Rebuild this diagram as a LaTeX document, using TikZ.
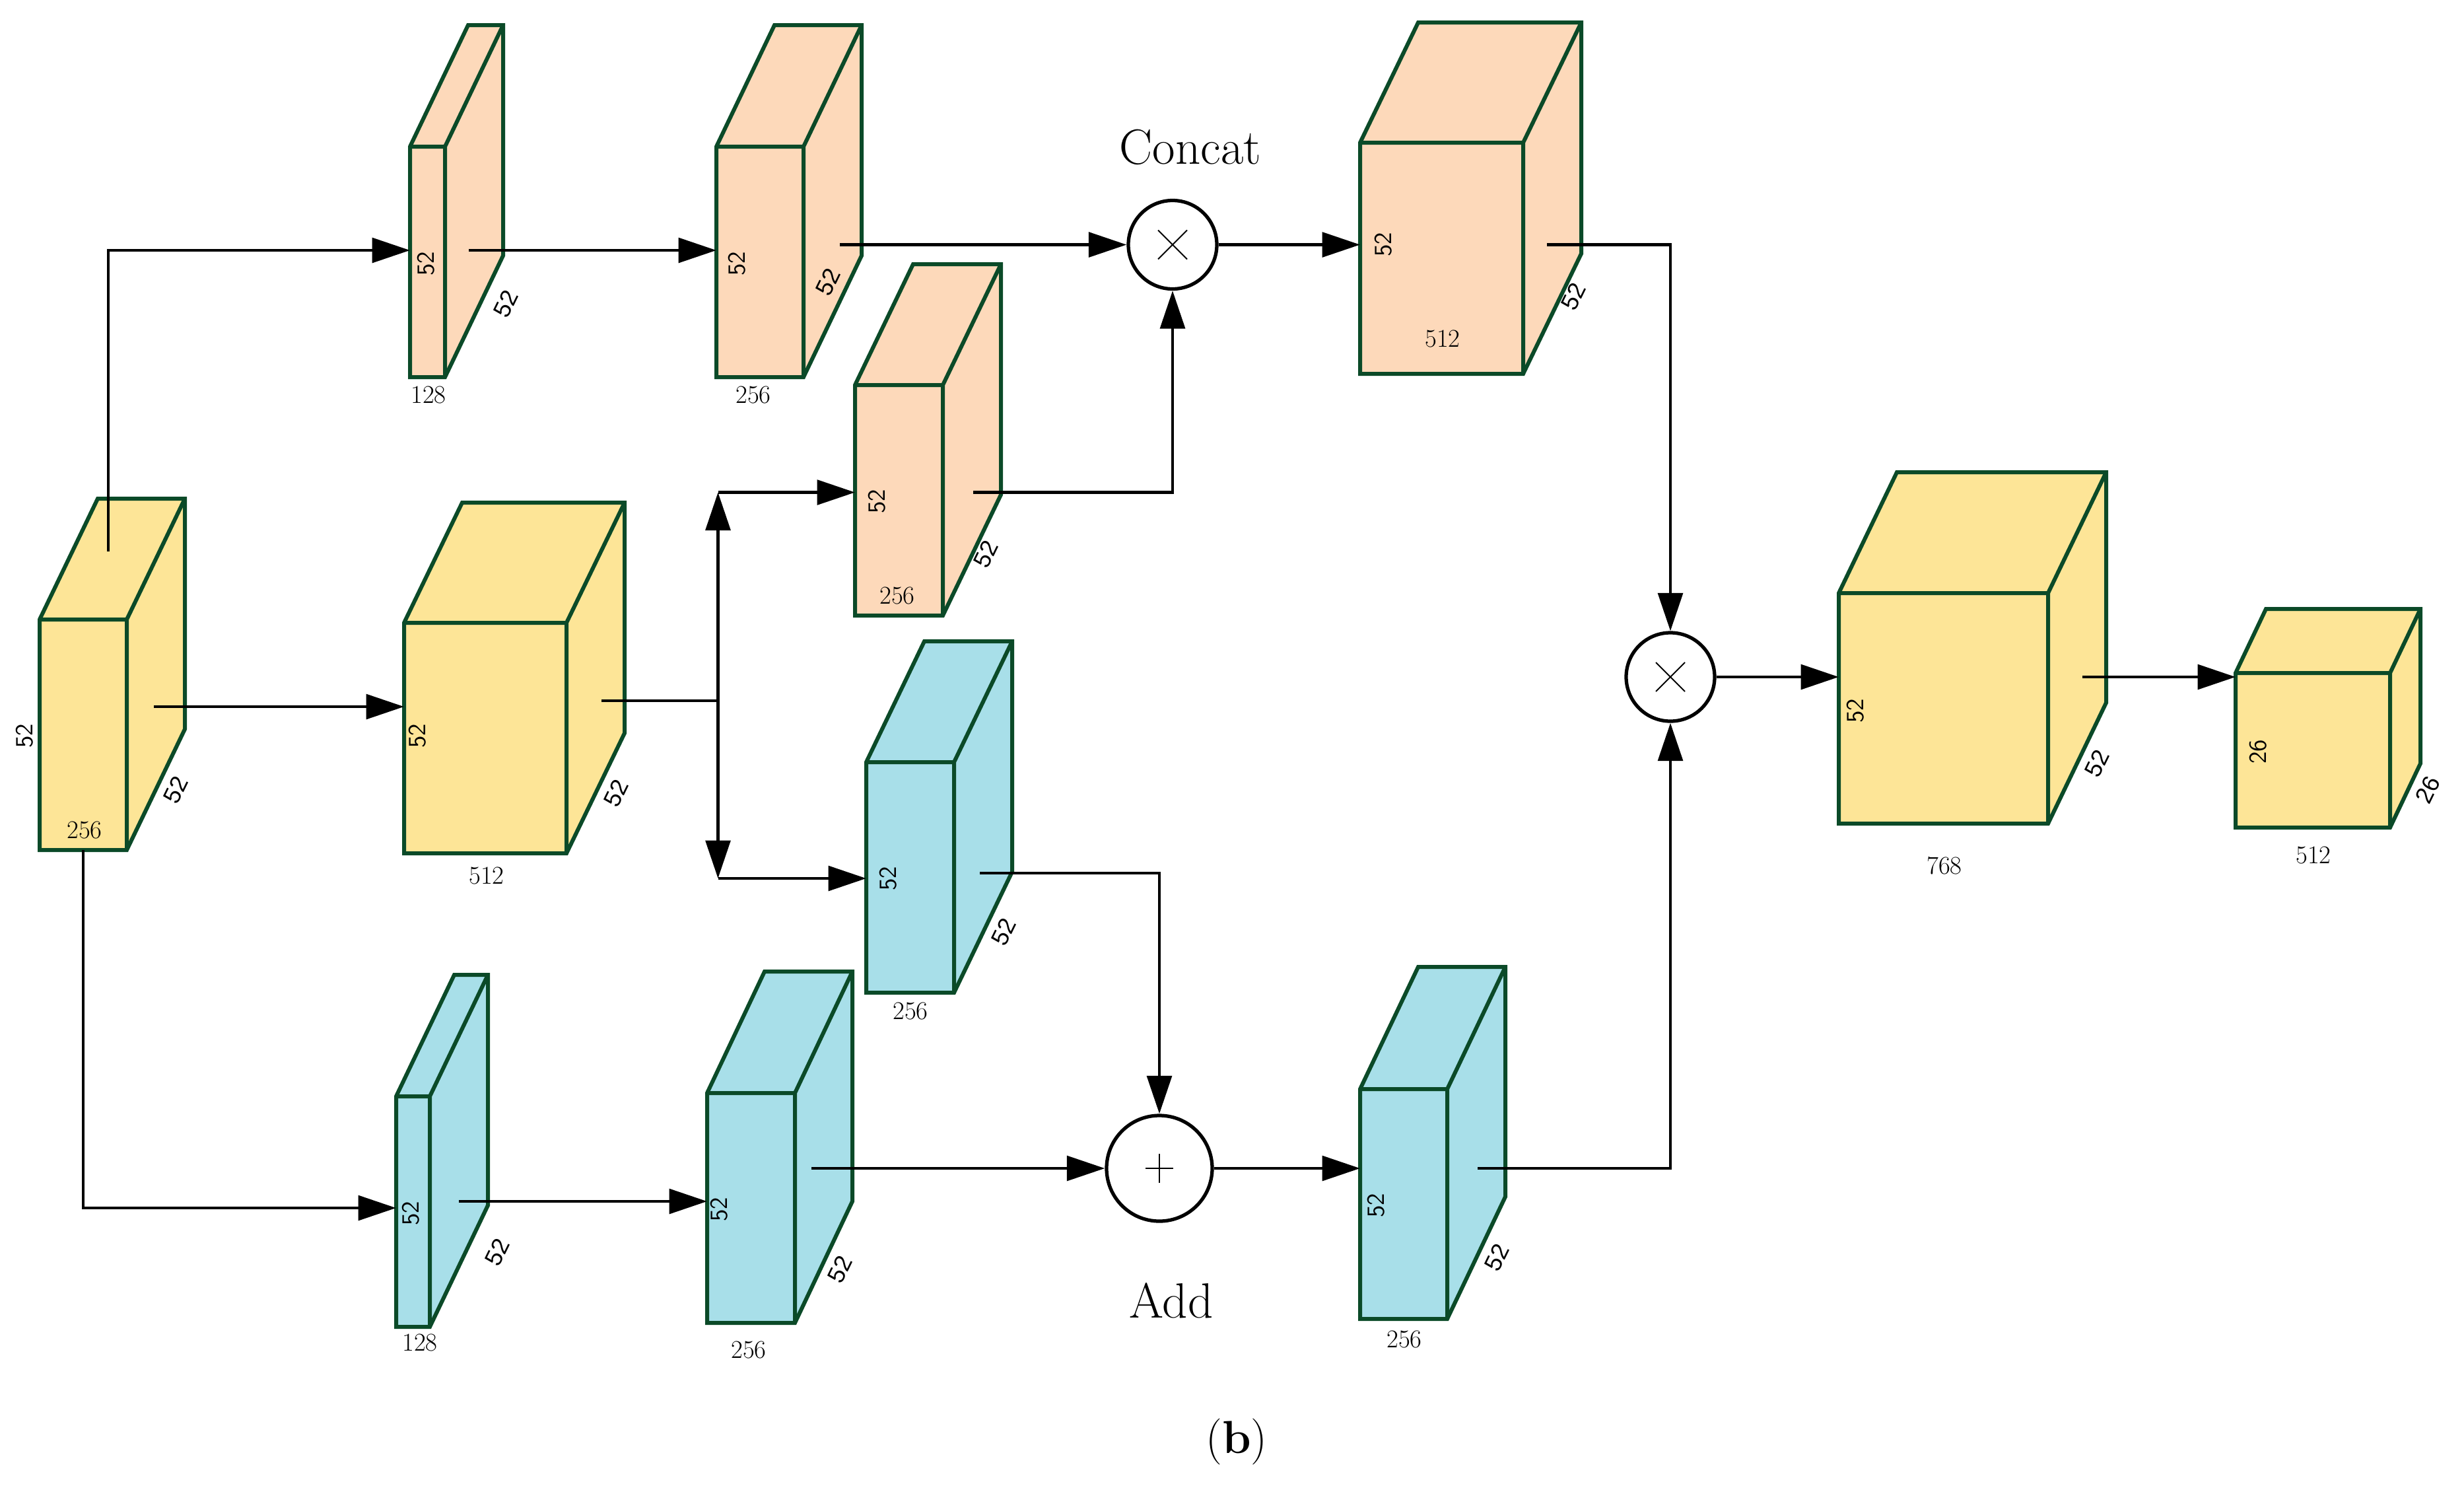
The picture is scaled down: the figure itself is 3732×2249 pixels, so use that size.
\documentclass[tikz,border=0pt]{standalone}
\usepackage{fontspec}
\newfontfamily\diagfont{Liberation Sans}
\usetikzlibrary{arrows.meta}
\definecolor{peach}{HTML}{FDD9BA}
\definecolor{ylw}{HTML}{FDE597}
\definecolor{cyn}{HTML}{A8DFE9}
\definecolor{edgegreen}{HTML}{0B4A28}
\newcommand{\mycuboid}[8]{%
  \filldraw[boxline, fill=#8] (#2,#3) -- ({#2+#6},{#3-#7}) -- ({#4+#6},{#3-#7}) -- ({#4+#6},{#5-#7}) -- (#4,#5) -- (#2,#5) -- cycle;
  \draw[boxline] (#2,#3) -- (#4,#3) -- (#4,#5) (#4,#3) -- ({#4+#6},{#3-#7});
  \coordinate (#1-l) at (#2,{(#3+#5)/2});
}
\tikzset{
  boxline/.style={draw=edgegreen, line width=2.4pt, line join=miter},
  conn/.style={draw=black, line width=1.9pt},
  arr/.style={conn, -{Triangle[length=23pt,width=15pt]}},
  opcirc/.style={circle, draw=black, line width=2.1pt, fill=white, inner sep=0pt},
  numlbl/.style={font=\fontsize{15.5}{18}\selectfont, inner sep=0pt},
  vlbl/.style={font=\sffamily\fontsize{15}{18}\selectfont, inner sep=0pt, rotate=90},
  dlbl/.style={font=\diagfont\fontsize{14.5}{17}\selectfont, inner sep=0pt, rotate=64},
  oplbl/.style={font=\fontsize{30}{36}\selectfont, inner sep=0pt},
}
\begin{document}
\begin{tikzpicture}[x=0.4pt,y=-0.4pt]
\useasboundingbox (0,0) rectangle (3732,2249);
% boxes
\mycuboid{A}{60}{938}{192}{1287}{88}{183}{ylw}
\mycuboid{A2}{612}{943}{858}{1292}{88}{182}{ylw}
\mycuboid{B1}{621}{222}{674}{571}{88}{184}{peach}
\mycuboid{B2}{1085}{222}{1217}{571}{88}{184}{peach}
\mycuboid{C1}{1295}{583}{1428}{932}{88}{183}{peach}
\mycuboid{E1}{2060}{216}{2307}{566}{88}{182}{peach}
\mycuboid{D1}{1312}{1154}{1445}{1503}{88}{183}{cyn}
\mycuboid{H1}{600}{1660}{651}{2009}{88}{184}{cyn}
\mycuboid{H2}{1071}{1655}{1204}{2003}{87}{184}{cyn}
\mycuboid{E2}{2060}{1649}{2192}{1997}{88}{185}{cyn}
\mycuboid{F}{2785}{898}{3102}{1247}{88}{183}{ylw}
\mycuboid{G}{3386}{1019}{3620}{1253}{46}{97}{ylw}
% operators
\node[opcirc, minimum size=53.6pt] (cat) at (1776,370.5) {};
\node[opcirc, minimum size=53.6pt] (mul) at (2530,1025) {};
\node[opcirc, minimum size=64pt] (add) at (1756,1769) {};
\draw[line width=0.8pt] (cat) ++(-22,-22) -- ++(44,44) (cat) ++(-22,22) -- ++(44,-44);
\draw[line width=0.8pt] (mul) ++(-22,-22) -- ++(44,44) (mul) ++(-22,22) -- ++(44,-44);
\draw[line width=0.8pt] (add) ++(-21,0) -- ++(42,0) (add) ++(0,-22) -- ++(0,44);
\node[oplbl] (catlbl) at (1803,223) {Concat};
\node[oplbl] (addlbl) at (1774,1969) {Add};
\node[font=\fontsize{28}{34}\selectfont, inner sep=0pt] (cap) at (1873,2183) {(\textbf{b})};
% connector points
\coordinate (Atop) at (164,835);
\coordinate (Aup) at (164,379);
\coordinate (Aout) at (233,1070);
\coordinate (Abot) at (126,1287);
\coordinate (Adown) at (126,1829);
\coordinate (B1out) at (710,379);
\coordinate (B2out) at (1272,370.5);
\coordinate (E1out) at (2343,370.5);
\coordinate (A2out) at (911,1061);
\coordinate (J) at (1087.5,1061);
\coordinate (Jt) at (1087.5,745.5);
\coordinate (Jb) at (1087.5,1330);
\coordinate (C1out) at (1474,745.5);
\coordinate (D1out) at (1484,1322);
\coordinate (H1out) at (695,1819);
\coordinate (H2out) at (1229,1769);
\coordinate (E2out) at (2238,1769);
\coordinate (Fout) at (3154,1025);
% connectors
\draw[arr] (Atop) -- (Aup) -- (Aup -| B1-l);
\draw[arr] (B1out) -- (B1out -| B2-l);
\draw[arr] (B2out) -- (cat.west);
\draw[arr] (cat.east) -- (cat.east -| E1-l);
\draw[arr] (E1out) -| (mul.north);
\draw[arr] (Aout) -- (Aout -| A2-l);
\draw[conn] (A2out) -- (J);
\draw[arr] (J) -- (Jt);
\draw[arr] (J) -- (Jb);
\draw[arr] (Jt) -- (Jt -| C1-l);
\draw[arr] (Jb) -- (Jb -| D1-l);
\draw[arr] (C1out) -| (cat.south);
\draw[arr] (D1out) -| (add.north);
\draw[arr] (Abot) -- (Adown) -- (Adown -| H1-l);
\draw[arr] (H1out) -- (H1out -| H2-l);
\draw[arr] (H2out) -- (add.west);
\draw[arr] (add.east) -- (add.east -| E2-l);
\draw[arr] (E2out) -| (mul.south);
\draw[arr] (mul.east) -- (mul.east -| F-l);
\draw[arr] (Fout) -- (Fout -| G-l);
% labels
\node[vlbl] (A-h) at (37,1114) {52};
\node[numlbl] (A-w) at (128,1257) {256};
\node[dlbl] (A-d) at (266,1196) {52};
\node[vlbl] (A2-h) at (632,1114) {52};
\node[dlbl] (A2-d) at (933,1201) {52};
\node[numlbl] (A2-w) at (737,1326) {512};
\node[vlbl] (B1-h) at (645,399) {52};
\node[dlbl] (B1-d) at (766,460) {52};
\node[numlbl] (B1-w) at (649,598) {128};
\node[vlbl] (B2-h) at (1116,399) {52};
\node[dlbl] (B2-d) at (1254,427) {52};
\node[numlbl] (B2-w) at (1141,598) {256};
\node[vlbl] (C1-h) at (1328,759) {52};
\node[numlbl] (C1-w) at (1359,902) {256};
\node[dlbl] (C1-d) at (1493,839) {52};
\node[vlbl] (E1-h) at (2095,370.5) {52};
\node[numlbl] (E1-w) at (2185,513) {512};
\node[dlbl] (E1-d) at (2383,449) {52};
\node[vlbl] (D1-h) at (1345,1330) {52};
\node[dlbl] (D1-d) at (1520,1411) {52};
\node[numlbl] (D1-w) at (1379,1531) {256};
\node[vlbl] (H1-h) at (622,1837) {52};
\node[dlbl] (H1-d) at (753,1896) {52};
\node[numlbl] (H1-w) at (636,2033) {128};
\node[vlbl] (H2-h) at (1089,1831) {52};
\node[dlbl] (H2-d) at (1272,1922) {52};
\node[numlbl] (H2-w) at (1134,2044) {256};
\node[vlbl] (E2-h) at (2084,1825) {52};
\node[dlbl] (E2-d) at (2267,1904) {52};
\node[numlbl] (E2-w) at (2127,2028) {256};
\node[vlbl] (F-h) at (2810,1076) {52};
\node[dlbl] (F-d) at (3176,1156) {52};
\node[numlbl] (F-w) at (2945,1311) {768};
\node[vlbl] (G-h) at (3420,1138) {26};
\node[dlbl] (G-d) at (3677,1196) {26};
\node[numlbl] (G-w) at (3504,1295) {512};
\end{tikzpicture}
\end{document}
